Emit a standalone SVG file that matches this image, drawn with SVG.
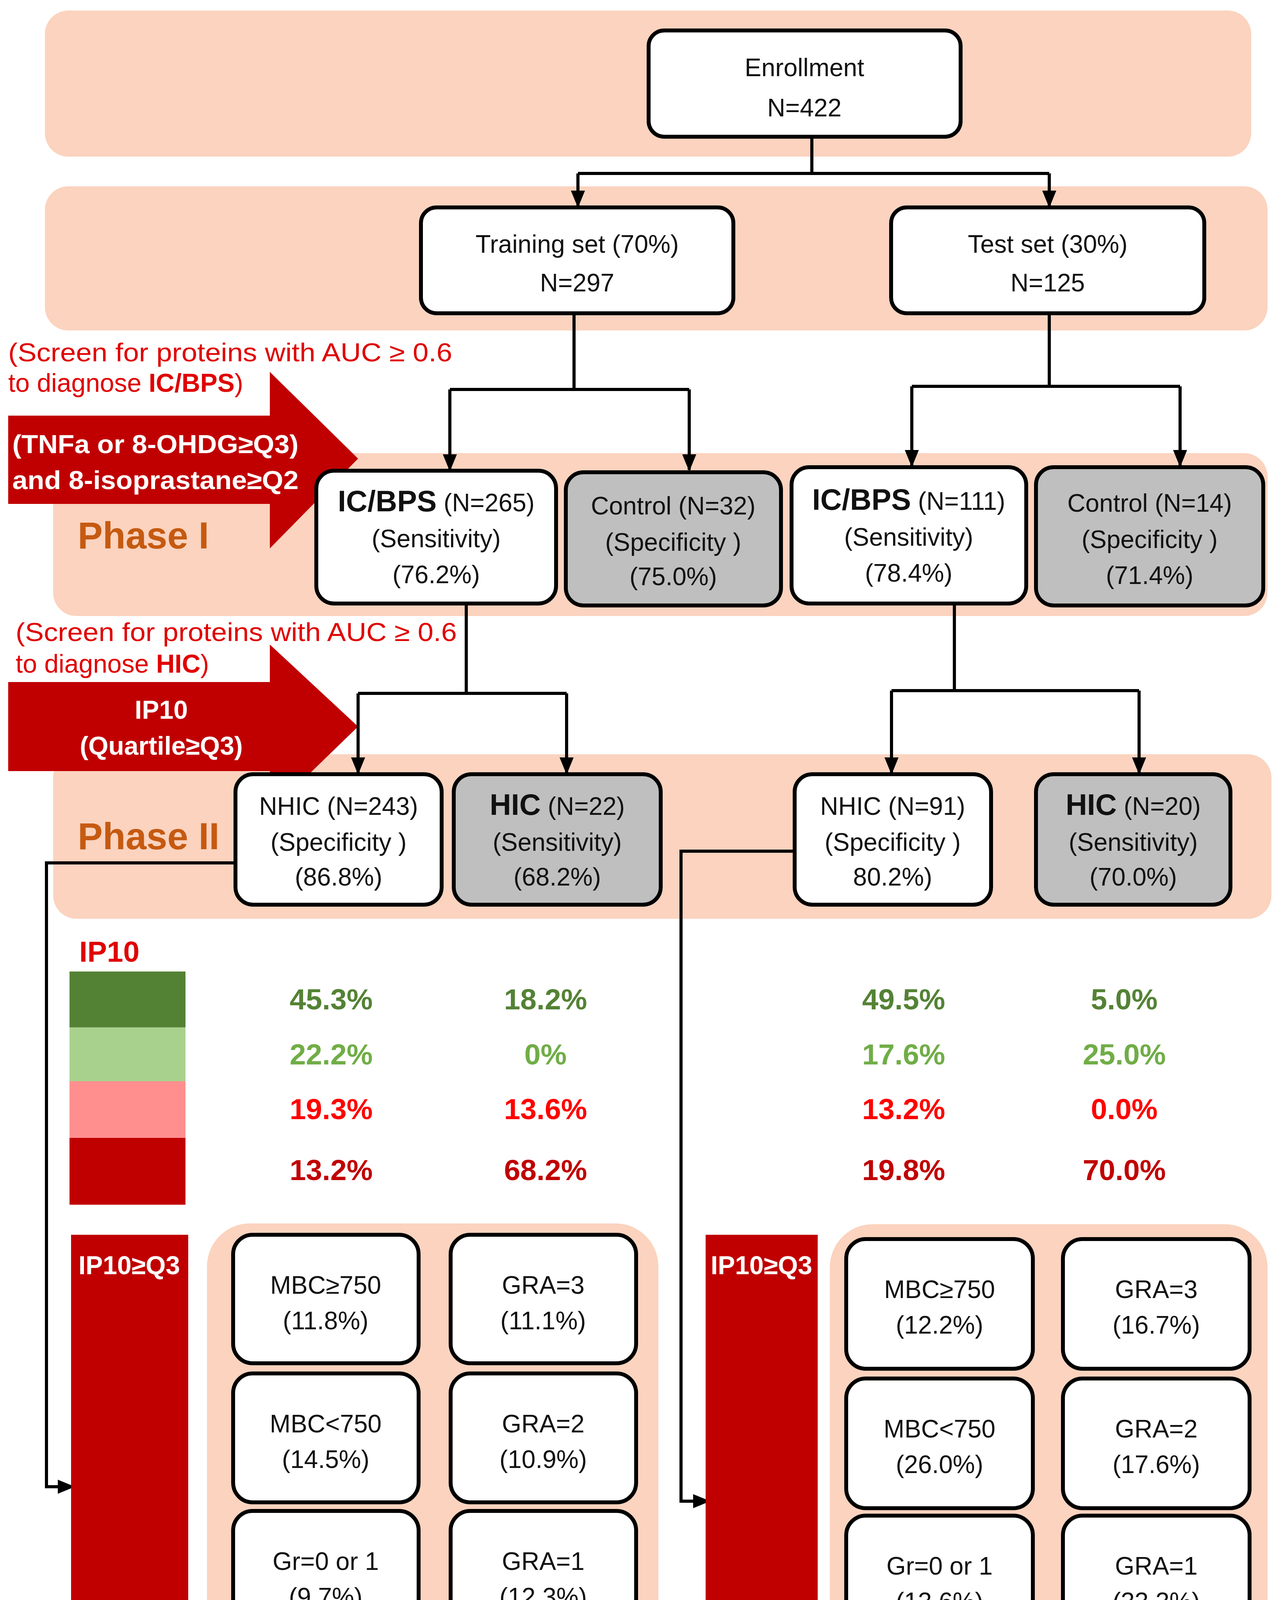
<svg xmlns="http://www.w3.org/2000/svg" width="3283" height="4610" viewBox="0 0 3283 4610">
<style>
.band{fill:#FBD3BF}
.box{fill:#fff;stroke:#000;stroke-width:10}
.gbox{fill:#BFBFBF;stroke:#000;stroke-width:10}
.t{font-family:"Liberation Sans",Arial,sans-serif;font-size:64px;fill:#111;text-anchor:middle}
.b{font-weight:bold;font-size:76px}
.red{font-family:"Liberation Sans",Arial,sans-serif;font-size:66px;fill:#E00000}
.wt{font-family:"Liberation Sans",Arial,sans-serif;font-weight:bold;font-size:66px;fill:#fff;text-anchor:middle}
.ph{font-family:"Liberation Sans",Arial,sans-serif;font-weight:bold;font-size:96px;fill:#C55A11}
.p{font-family:"Liberation Sans",Arial,sans-serif;font-weight:bold;font-size:75px;text-anchor:middle}
.ln{fill:none;stroke:#000;stroke-width:8}
</style>
<defs>
<marker id="ar" markerUnits="userSpaceOnUse" markerWidth="44" markerHeight="36" refX="40" refY="18" orient="auto" viewBox="0 0 44 36">
<path d="M0,0 L44,18 L0,36 Z" fill="#000"/>
</marker>
</defs>
<rect width="3283" height="4610" fill="#fff"/>
<g id="bands">
<rect class="band" x="115" y="27" width="3089" height="374" rx="60"/>
<rect class="band" x="115" y="477" width="3131" height="369" rx="60"/>
<rect class="band" x="136" y="1160" width="3110" height="417" rx="60"/>
<rect class="band" x="136" y="1931" width="3120" height="421" rx="60"/>
<rect class="band" x="530" y="3132" width="1156" height="1448" rx="110"/>
<rect class="band" x="2125" y="3134" width="1121" height="1449" rx="110"/>
</g>
<g id="arrow1">
<path d="M21,1064 L691,1064 L691,952 L917,1174 L691,1404 L691,1290 L21,1290 Z" fill="#C00000"/>
<text class="wt" x="398" y="1160" textLength="733" lengthAdjust="spacingAndGlyphs">(TNFa or 8-OHDG≥Q3)</text>
<text class="wt" x="398" y="1252" textLength="733" lengthAdjust="spacingAndGlyphs">and 8-isoprastane≥Q2</text>
</g>
<g id="arrow2">
<path d="M21,1746 L691,1746 L691,1650 L917,1860 L691,2079 L691,1974 L21,1974 Z" fill="#C00000"/>
<text class="wt" x="413" y="1840">IP10</text>
<text class="wt" x="413" y="1932">(Quartile≥Q3)</text>
</g>
<g id="notes">
<text class="red" x="21" y="925" textLength="1137" lengthAdjust="spacingAndGlyphs">(Screen for proteins with AUC ≥ 0.6</text>
<text class="red" x="21" y="1003">to diagnose <tspan font-weight="bold">IC/BPS</tspan>)</text>
<text class="red" x="40" y="1641" textLength="1130" lengthAdjust="spacingAndGlyphs">(Screen for proteins with AUC ≥ 0.6</text>
<text class="red" x="40" y="1722">to diagnose <tspan font-weight="bold">HIC</tspan>)</text>
<text class="ph" x="199" y="1404">Phase I</text>
<text class="ph" x="199" y="2174">Phase II</text>
</g>
<g id="connectors">
<path class="ln" d="M2079,350 V444 M1480,444 H2687"/>
<path class="ln" d="M1480,444 V528" marker-end="url(#ar)"/>
<path class="ln" d="M2687,444 V528" marker-end="url(#ar)"/>
<path class="ln" d="M1470,802 V997 M1152,997 H1765"/>
<path class="ln" d="M1152,997 V1203" marker-end="url(#ar)"/>
<path class="ln" d="M1765,997 V1203" marker-end="url(#ar)"/>
<path class="ln" d="M2687,802 V989 M2335,989 H3022"/>
<path class="ln" d="M2335,989 V1192" marker-end="url(#ar)"/>
<path class="ln" d="M3022,989 V1192" marker-end="url(#ar)"/>
<path class="ln" d="M1194,1545 V1775 M917,1775 H1451"/>
<path class="ln" d="M917,1775 V1979" marker-end="url(#ar)"/>
<path class="ln" d="M1451,1775 V1979" marker-end="url(#ar)"/>
<path class="ln" d="M2444,1545 V1768 M2283,1768 H2917"/>
<path class="ln" d="M2283,1768 V1979" marker-end="url(#ar)"/>
<path class="ln" d="M2917,1768 V1979" marker-end="url(#ar)"/>
<path class="ln" d="M603,2209 H119 V3806 H188" marker-end="url(#ar)"/>
<path class="ln" d="M2035,2179 H1744 V3843 H1815" marker-end="url(#ar)"/>
</g>
<g id="enrollment">
<rect class="box" x="1661" y="78" width="799" height="272" rx="40"/>
<text class="t" x="2060" y="195">Enrollment</text>
<text class="t" x="2060" y="298">N=422</text>
</g>
<g id="training">
<rect class="box" x="1078" y="531" width="800" height="271" rx="40"/>
<text class="t" x="1478" y="647">Training set (70%)</text>
<text class="t" x="1478" y="746">N=297</text>
</g>
<g id="test">
<rect class="box" x="2282" y="531" width="802" height="271" rx="40"/>
<text class="t" x="2683" y="647">Test set (30%)</text>
<text class="t" x="2683" y="746">N=125</text>
</g>
<g id="icbps-train">
<rect class="box" x="810" y="1205" width="614" height="340" rx="45"/>
<text class="t" x="1117" y="1309"><tspan class="b">IC/BPS</tspan> (N=265)</text>
<text class="t" x="1117" y="1401">(Sensitivity)</text>
<text class="t" x="1117" y="1493">(76.2%)</text>
</g>
<g id="control-train">
<rect class="gbox" x="1449" y="1209" width="551" height="341" rx="45"/>
<text class="t" x="1724" y="1317">Control (N=32)</text>
<text class="t" x="1724" y="1410">(Specificity )</text>
<text class="t" x="1724" y="1498">(75.0%)</text>
</g>
<g id="icbps-test">
<rect class="box" x="2027" y="1196" width="601" height="349" rx="45"/>
<text class="t" x="2327" y="1305"><tspan class="b">IC/BPS</tspan> (N=111)</text>
<text class="t" x="2327" y="1397">(Sensitivity)</text>
<text class="t" x="2327" y="1489">(78.4%)</text>
</g>
<g id="control-test">
<rect class="gbox" x="2653" y="1196" width="582" height="354" rx="45"/>
<text class="t" x="2944" y="1310">Control (N=14)</text>
<text class="t" x="2944" y="1403">(Specificity )</text>
<text class="t" x="2944" y="1495">(71.4%)</text>
</g>
<g id="nhic-train">
<rect class="box" x="603" y="1982" width="528" height="334" rx="45"/>
<text class="t" x="867" y="2086">NHIC (N=243)</text>
<text class="t" x="867" y="2178">(Specificity )</text>
<text class="t" x="867" y="2267">(86.8%)</text>
</g>
<g id="hic-train">
<rect class="gbox" x="1162" y="1982" width="530" height="334" rx="45"/>
<text class="t" x="1427" y="2086"><tspan class="b">HIC</tspan> (N=22)</text>
<text class="t" x="1427" y="2178">(Sensitivity)</text>
<text class="t" x="1427" y="2267">(68.2%)</text>
</g>
<g id="nhic-test">
<rect class="box" x="2035" y="1982" width="503" height="334" rx="45"/>
<text class="t" x="2286" y="2086">NHIC (N=91)</text>
<text class="t" x="2286" y="2178">(Specificity )</text>
<text class="t" x="2286" y="2267">80.2%)</text>
</g>
<g id="hic-test">
<rect class="gbox" x="2653" y="1982" width="498" height="334" rx="45"/>
<text class="t" x="2902" y="2086"><tspan class="b">HIC</tspan> (N=20)</text>
<text class="t" x="2902" y="2178">(Sensitivity)</text>
<text class="t" x="2902" y="2267">(70.0%)</text>
</g>
<g id="ip10-legend">
<text class="p" x="203" y="2462" fill="#E00000" style="text-anchor:start">IP10</text>
<rect x="178" y="2487" width="297" height="143" fill="#548235"/>
<rect x="178" y="2630" width="297" height="138" fill="#A9D18E"/>
<rect x="178" y="2768" width="297" height="145" fill="#FF8F8F"/>
<rect x="178" y="2913" width="297" height="171" fill="#C00000"/>
</g>
<g id="percentages">
<g fill="#548235"><text class="p" x="848" y="2584">45.3%</text><text class="p" x="1397" y="2584">18.2%</text><text class="p" x="2314" y="2584">49.5%</text><text class="p" x="2879" y="2584">5.0%</text></g>
<g fill="#70AD47"><text class="p" x="848" y="2725">22.2%</text><text class="p" x="1397" y="2725">0%</text><text class="p" x="2314" y="2725">17.6%</text><text class="p" x="2879" y="2725">25.0%</text></g>
<g fill="#FF0000"><text class="p" x="848" y="2865">19.3%</text><text class="p" x="1397" y="2865">13.6%</text><text class="p" x="2314" y="2865">13.2%</text><text class="p" x="2879" y="2865">0.0%</text></g>
<g fill="#C00000"><text class="p" x="848" y="3021">13.2%</text><text class="p" x="1397" y="3021">68.2%</text><text class="p" x="2314" y="3021">19.8%</text><text class="p" x="2879" y="3021">70.0%</text></g>
</g>
<g id="ip10q3-train">
<rect x="182" y="3161" width="300" height="1383" fill="#C00000"/>
<text class="wt" x="331" y="3262" font-size="62">IP10≥Q3</text>
</g>
<g id="ip10q3-test">
<rect x="1807" y="3161" width="287" height="1383" fill="#C00000"/>
<text class="wt" x="1950" y="3262" font-size="62">IP10≥Q3</text>
</g>
<g id="grid-train">
<rect class="box" x="597" y="3161" width="475" height="329" rx="50"/><text class="t" x="834" y="3312">MBC≥750</text><text class="t" x="834" y="3403">(11.8%)</text>
<rect class="box" x="1154" y="3161" width="475" height="329" rx="50"/><text class="t" x="1391" y="3312">GRA=3</text><text class="t" x="1391" y="3403">(11.1%)</text>
<rect class="box" x="597" y="3516" width="475" height="330" rx="50"/><text class="t" x="834" y="3667">MBC&lt;750</text><text class="t" x="834" y="3758">(14.5%)</text>
<rect class="box" x="1154" y="3516" width="475" height="330" rx="50"/><text class="t" x="1391" y="3667">GRA=2</text><text class="t" x="1391" y="3758">(10.9%)</text>
<rect class="box" x="597" y="3868" width="475" height="330" rx="50"/><text class="t" x="834" y="4019">Gr=0 or 1</text><text class="t" x="834" y="4110">(9.7%)</text>
<rect class="box" x="1154" y="3868" width="475" height="330" rx="50"/><text class="t" x="1391" y="4019">GRA=1</text><text class="t" x="1391" y="4110">(12.3%)</text>
<rect class="box" x="597" y="4220" width="475" height="334" rx="50"/><text class="t" x="834" y="4371">Gr=2 or 3</text><text class="t" x="834" y="4462">(15.7%)</text>
<rect class="box" x="1154" y="4220" width="475" height="334" rx="50"/><text class="t" x="1391" y="4371">GRA=0</text><text class="t" x="1391" y="4462">(22.0%)</text>
</g>
<g id="grid-test">
<rect class="box" x="2167" y="3172" width="478" height="332" rx="50"/><text class="t" x="2406" y="3323">MBC≥750</text><text class="t" x="2406" y="3414">(12.2%)</text>
<rect class="box" x="2722" y="3172" width="478" height="332" rx="50"/><text class="t" x="2961" y="3323">GRA=3</text><text class="t" x="2961" y="3414">(16.7%)</text>
<rect class="box" x="2167" y="3529" width="478" height="332" rx="50"/><text class="t" x="2406" y="3680">MBC&lt;750</text><text class="t" x="2406" y="3771">(26.0%)</text>
<rect class="box" x="2722" y="3529" width="478" height="332" rx="50"/><text class="t" x="2961" y="3680">GRA=2</text><text class="t" x="2961" y="3771">(17.6%)</text>
<rect class="box" x="2167" y="3880" width="478" height="327" rx="50"/><text class="t" x="2406" y="4031">Gr=0 or 1</text><text class="t" x="2406" y="4122">(13.6%)</text>
<rect class="box" x="2722" y="3880" width="478" height="327" rx="50"/><text class="t" x="2961" y="4031">GRA=1</text><text class="t" x="2961" y="4122">(33.3%)</text>
<rect class="box" x="2172" y="4232" width="478" height="332" rx="50"/><text class="t" x="2411" y="4383">Gr=2 or 3</text><text class="t" x="2411" y="4474">(25.5%)</text>
<rect class="box" x="2727" y="4232" width="478" height="332" rx="50"/><text class="t" x="2966" y="4383">GRA=0</text><text class="t" x="2966" y="4474">(16.7%)</text>
</g>
</svg>
